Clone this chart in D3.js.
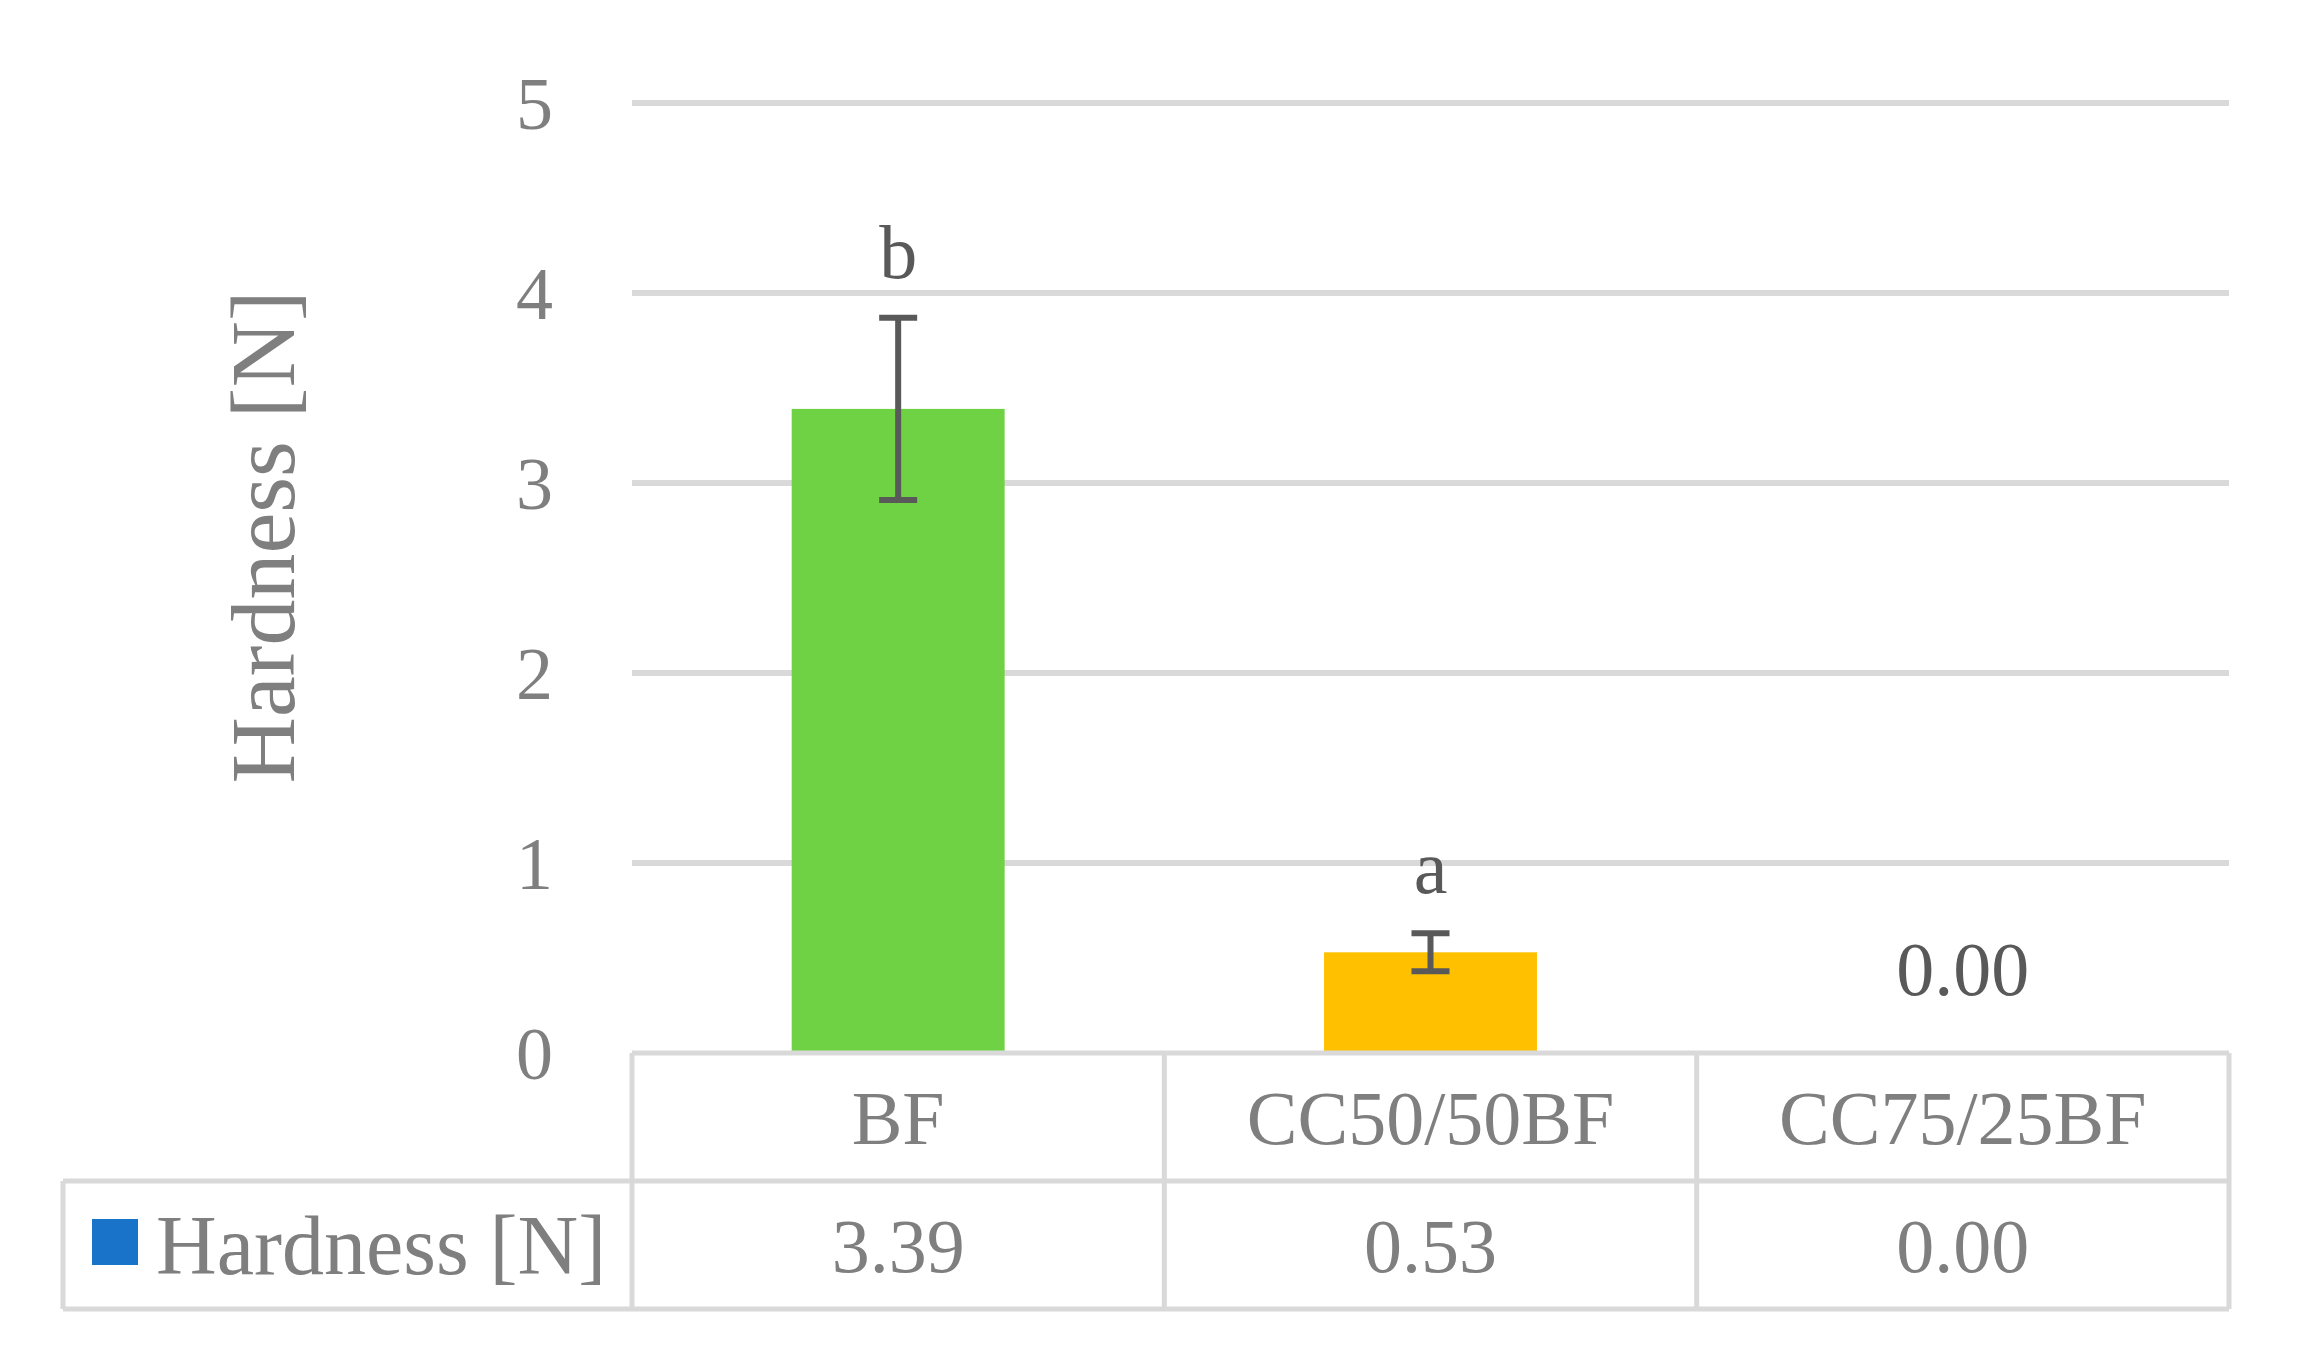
<!DOCTYPE html>
<html>
<head>
<meta charset="utf-8">
<script src="https://cdn.jsdelivr.net/npm/d3@7"></script>
<style>
  html, body { margin: 0; padding: 0; background: #fff; }
  svg text { font-family: "Liberation Serif", "DejaVu Serif", serif; }
</style>
</head>
<body>
<script>
// chart data
const categories = ['BF', 'CC50/50BF', 'CC75/25BF'];
const hardness = [3.39, 0.53, 0.00];
const hardnessErr = [0.48, 0.10, 0];
const groupLetters = ['b', 'a', ''];
const yTicks = [0, 1, 2, 3, 4, 5];
const seriesName = 'Hardness [N]';
const barColors = ['#6fd244', '#ffc000', '#6fd244'];
const legendColor = '#1873c9';

const width = 2297;
const height = 1353;
const margin = { top: 103, right: 68, bottom: 300, left: 632 };
const rowH = 128;

const svg = d3.select('body')
  .append('svg')
  .attr('width', width)
  .attr('height', height);

const x = d3.scaleBand()
  .domain(categories)
  .range([margin.left, width - margin.right])
  .paddingInner(0.6)
  .paddingOuter(0.3);

const xCell = d3.scaleBand()
  .domain(categories)
  .range([margin.left, width - margin.right]);

const y = d3.scaleLinear()
  .domain([0, 5])
  .range([height - margin.bottom, margin.top]);

const y0 = y(0);

// gridlines
svg.append('g')
  .selectAll('line')
  .data(yTicks.filter(d => d > 0))
  .join('line')
  .attr('x1', margin.left)
  .attr('x2', width - margin.right)
  .attr('y1', d => y(d))
  .attr('y2', d => y(d))
  .attr('stroke', '#d9d9d9')
  .attr('stroke-width', 6);

// y tick labels
svg.append('g')
  .selectAll('text')
  .data(yTicks)
  .join('text')
  .attr('x', 553)
  .attr('y', d => y(d))
  .attr('dy', '0.35em')
  .attr('text-anchor', 'end')
  .attr('font-size', 74)
  .attr('fill', '#7f7f7f')
  .text(d => d);

// y axis title
svg.append('text')
  .attr('transform', `translate(294, ${537}) rotate(-90)`)
  .attr('text-anchor', 'middle')
  .attr('font-size', 92)
  .attr('fill', '#7f7f7f')
  .text(seriesName);

// bars
svg.append('g')
  .selectAll('rect')
  .data(hardness)
  .join('rect')
  .attr('x', (d, i) => x(categories[i]))
  .attr('width', x.bandwidth())
  .attr('y', d => y(d))
  .attr('height', d => y0 - y(d))
  .attr('fill', (d, i) => barColors[i]);

// error bars
const errG = svg.append('g')
  .attr('stroke', '#595959')
  .attr('stroke-width', 6);

hardness.forEach((v, i) => {
  if (hardnessErr[i] <= 0) return;
  const cx = x(categories[i]) + x.bandwidth() / 2;
  const hi = y(v + hardnessErr[i]);
  const lo = y(v - hardnessErr[i]);
  errG.append('line').attr('x1', cx).attr('x2', cx).attr('y1', hi).attr('y2', lo);
  errG.append('line').attr('x1', cx - 19).attr('x2', cx + 19).attr('y1', hi).attr('y2', hi);
  errG.append('line').attr('x1', cx - 19).attr('x2', cx + 19).attr('y1', lo).attr('y2', lo);
});

// significance letters / zero label
svg.append('g')
  .selectAll('text')
  .data(hardness)
  .join('text')
  .attr('x', (d, i) => x(categories[i]) + x.bandwidth() / 2)
  .attr('y', (d, i) => hardnessErr[i] > 0 ? y(d + hardnessErr[i]) - 40 : y(d) - 58)
  .attr('text-anchor', 'middle')
  .attr('font-size', 76)
  .attr('fill', '#595959')
  .text((d, i) => groupLetters[i] || d3.format('.2f')(d));

// data table
const tableTop = y0;
const tableLeft = 63;
const tableRight = width - margin.right;
const grid = svg.append('g')
  .attr('stroke', '#d9d9d9')
  .attr('stroke-width', 5)
  .attr('fill', 'none');

grid.append('line').attr('x1', margin.left).attr('x2', tableRight).attr('y1', tableTop).attr('y2', tableTop);
grid.append('line').attr('x1', tableLeft).attr('x2', tableRight).attr('y1', tableTop + rowH).attr('y2', tableTop + rowH);
grid.append('line').attr('x1', tableLeft).attr('x2', tableRight).attr('y1', tableTop + 2 * rowH).attr('y2', tableTop + 2 * rowH);
grid.append('line').attr('x1', tableLeft).attr('x2', tableLeft).attr('y1', tableTop + rowH).attr('y2', tableTop + 2 * rowH);

grid.selectAll('.vline')
  .data(categories.concat(['end']))
  .join('line')
  .attr('class', 'vline')
  .attr('x1', d => d === 'end' ? tableRight : xCell(d))
  .attr('x2', d => d === 'end' ? tableRight : xCell(d))
  .attr('y1', tableTop)
  .attr('y2', tableTop + 2 * rowH);

// category row
svg.append('g')
  .selectAll('text')
  .data(categories)
  .join('text')
  .attr('x', d => xCell(d) + xCell.bandwidth() / 2)
  .attr('y', tableTop + rowH / 2)
  .attr('dy', '0.35em')
  .attr('text-anchor', 'middle')
  .attr('font-size', 76)
  .attr('fill', '#7f7f7f')
  .text(d => d);

// values row
svg.append('g')
  .selectAll('text')
  .data(hardness)
  .join('text')
  .attr('x', (d, i) => xCell(categories[i]) + xCell.bandwidth() / 2)
  .attr('y', tableTop + rowH * 1.5)
  .attr('dy', '0.35em')
  .attr('text-anchor', 'middle')
  .attr('font-size', 76)
  .attr('fill', '#7f7f7f')
  .text(d => d3.format('.2f')(d));

// legend key in table
svg.append('rect')
  .attr('x', 92)
  .attr('y', tableTop + rowH * 1.5 - 26)
  .attr('width', 46)
  .attr('height', 46)
  .attr('fill', legendColor);

svg.append('text')
  .attr('x', 156)
  .attr('y', tableTop + rowH * 1.5)
  .attr('dy', '0.35em')
  .attr('font-size', 84)
  .attr('fill', '#7f7f7f')
  .text(seriesName);
</script>
</body>
</html>
